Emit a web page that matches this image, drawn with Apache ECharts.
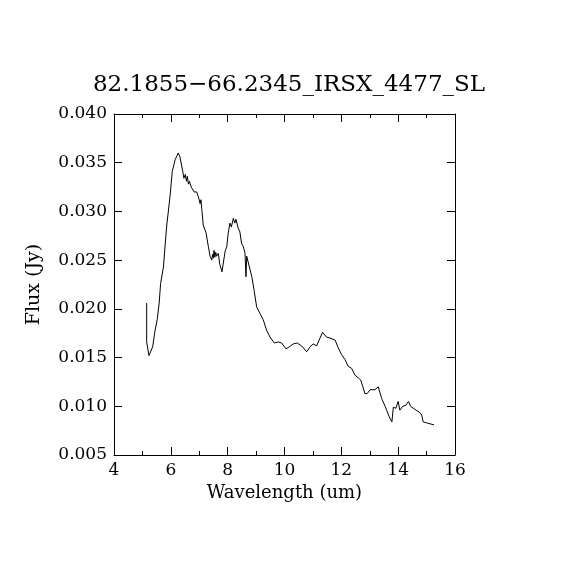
<!DOCTYPE html>
<html>
<head>
<meta charset="utf-8">
<script src="https://cdn.jsdelivr.net/npm/echarts@6/dist/echarts.min.js"></script>
<style>
  html, body { margin: 0; padding: 0; background: #fff; }
  #main { width: 570px; height: 570px; }
</style>
</head>
<body>
<div id="main"></div>
<script>
// 波长 (um) 与流量 (Jy)
var wavelength = [
    5.15, 5.15, 5.23, 5.36, 5.44, 5.52, 5.59, 5.64, 5.74, 5.85,
    5.97, 6.05, 6.15, 6.26, 6.32, 6.42, 6.46, 6.51, 6.55, 6.58, 6.62, 6.65,
    6.72, 6.77, 6.82, 6.91, 6.97, 7.03, 7.06, 7.09, 7.14, 7.24, 7.32, 7.38,
    7.44, 7.47, 7.49, 7.52, 7.55, 7.58, 7.61, 7.67, 7.72, 7.75, 7.80, 7.83, 7.91, 7.97, 8.02,
    8.08, 8.13, 8.20, 8.25, 8.29, 8.37, 8.43, 8.49, 8.55, 8.61, 8.645, 8.67,
    8.73, 8.85, 8.93, 9.02, 9.14, 9.25, 9.37, 9.49, 9.64, 9.78,
    9.90, 10.05, 10.17, 10.31, 10.45, 10.60, 10.78, 10.90, 11.01, 11.13,
    11.25, 11.34, 11.39, 11.48, 11.60, 11.78, 11.89, 12.01, 12.13, 12.24,
    12.36, 12.48, 12.60, 12.68, 12.77, 12.83, 12.91, 13.01, 13.08, 13.18,
    13.30, 13.36, 13.42, 13.54, 13.62, 13.69, 13.74, 13.78, 13.83, 13.92,
    14.00, 14.06, 14.16, 14.27, 14.36, 14.44, 14.51, 14.63, 14.74, 14.83,
    14.88, 15.00, 15.12, 15.26
];
var flux = [
    0.0206, 0.0166, 0.0152, 0.0161, 0.0177, 0.0189, 0.0206, 0.0226, 0.0243, 0.0284,
    0.0315, 0.0341, 0.0353, 0.0360, 0.0356, 0.0341, 0.0334, 0.0338, 0.0331, 0.0336, 0.0328, 0.0331,
    0.0325, 0.0327, 0.0320, 0.0320, 0.0315, 0.0308, 0.0312, 0.0302, 0.0286, 0.0278, 0.0264, 0.0254,
    0.0250, 0.0256, 0.0252, 0.0260, 0.0253, 0.0258, 0.0254, 0.0257, 0.0246, 0.0247, 0.0238, 0.0240, 0.0259, 0.0264, 0.0278,
    0.0288, 0.0284, 0.0293, 0.0288, 0.0292, 0.0283, 0.0279, 0.0267, 0.0264, 0.0257, 0.0233, 0.0254,
    0.0247, 0.0233, 0.0219, 0.0202, 0.0195, 0.0189, 0.0178, 0.0171, 0.0165, 0.0166,
    0.0165, 0.0159, 0.0161, 0.0164, 0.0165, 0.0162, 0.0156, 0.0161, 0.0164, 0.0162,
    0.0170, 0.0176, 0.0177, 0.0171, 0.0170, 0.0168, 0.0160, 0.0153, 0.0148, 0.0141,
    0.0139, 0.0132, 0.0129, 0.0127, 0.0119, 0.0113, 0.0113, 0.0117, 0.0119, 0.0117,
    0.0120, 0.0122, 0.0108, 0.0100, 0.0094, 0.0089, 0.0091, 0.0084, 0.0099, 0.0098,
    0.0105, 0.0096, 0.0100, 0.0101, 0.0105, 0.0100, 0.0098, 0.0096, 0.0094, 0.0091,
    0.0084, 0.0083, 0.0082, 0.0081
];
var xTicks = [4, 6, 8, 10, 12, 14, 16];
var yTicks = [0.005, 0.010, 0.015, 0.020, 0.025, 0.030, 0.035, 0.040];

var FONT = 'DejaVu Serif';
var points = wavelength.map(function (w, i) { return [w, flux[i]]; });

function boxAxis(showLabel, extra) {
    var ax = {
        type: 'value',
        axisLine: { show: true, onZero: false, lineStyle: { color: '#000', width: 1 } },
        axisTick: { show: true, inside: true, length: 8, lineStyle: { color: '#000', width: 1 } },
        splitLine: { show: false },
        axisLabel: { show: showLabel, color: '#000', fontFamily: FONT, fontSize: 17 }
    };
    for (var k in extra) ax[k] = extra[k];
    return ax;
}

var option = {
    animation: false,
    backgroundColor: '#fff',
    title: {
        text: '82.1855\u221266.2345_IRSX_4477_SL',
        left: 284,
        textAlign: 'center',
        top: 69,
        textStyle: { color: '#000', fontFamily: FONT, fontWeight: 'normal', fontSize: 23 }
    },
    grid: { left: 114, top: 114, width: 341, height: 341 },
    xAxis: [
        boxAxis(true, {
            position: 'bottom', min: xTicks[0], max: xTicks[xTicks.length - 1], interval: 2,
            minorTick: { show: true, splitNumber: 2, length: 4, lineStyle: { color: '#000' } },
            axisLabel: { show: true, color: '#000', fontFamily: FONT, fontSize: 17, margin: 7 },
            name: 'Wavelength (um)', nameLocation: 'middle', nameGap: 29,
            nameTextStyle: { color: '#000', fontFamily: FONT, fontSize: 18 }
        }),
        boxAxis(false, {
            position: 'top', min: xTicks[0], max: xTicks[xTicks.length - 1], interval: 2,
            minorTick: { show: true, splitNumber: 2, length: 4, lineStyle: { color: '#000' } }
        })
    ],
    yAxis: [
        boxAxis(true, {
            position: 'left', min: yTicks[0], max: yTicks[yTicks.length - 1], interval: 0.005,
            axisLabel: {
                show: true, color: '#000', fontFamily: FONT, fontSize: 17, margin: 7,
                formatter: function (v) { return v.toFixed(3); }
            },
            name: 'Flux (Jy)', nameLocation: 'middle', nameGap: 70, nameRotate: 90,
            nameTextStyle: { color: '#000', fontFamily: FONT, fontSize: 19 }
        }),
        boxAxis(false, {
            position: 'right', min: yTicks[0], max: yTicks[yTicks.length - 1], interval: 0.005
        })
    ],
    series: [
        {
            type: 'line',
            data: points,
            showSymbol: false,
            symbol: 'none',
            lineStyle: { color: '#000', width: 1 }
        }
    ]
};

var myChart = echarts.init(document.getElementById('main'), null, { renderer: 'canvas' });
myChart.setOption(option);
</script>
</body>
</html>
